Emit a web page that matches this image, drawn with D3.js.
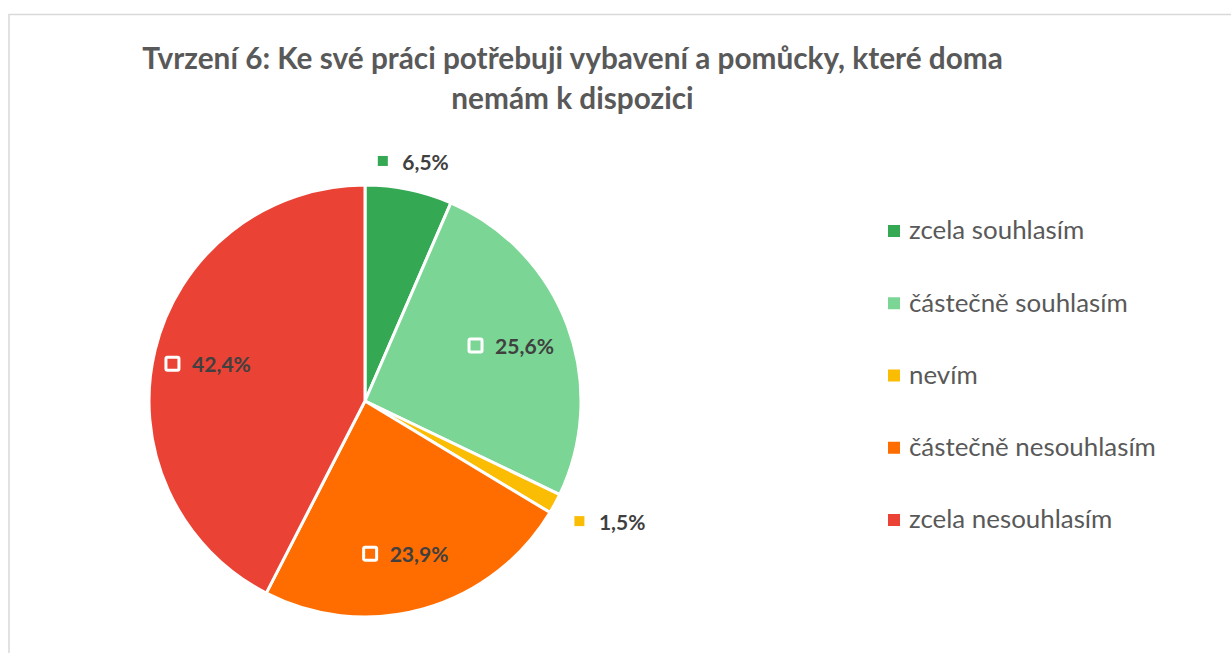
<!DOCTYPE html>
<html>
<head>
<meta charset="utf-8">
<script src="https://cdn.jsdelivr.net/npm/d3@7/dist/d3.min.js"></script>
<style>
  html, body { margin: 0; padding: 0; background: #fff; }
  svg { display: block; }
</style>
</head>
<body>
<svg id="chart" width="1231" height="653"></svg>
<script>
const titleLines = ["Tvrzení 6: Ke své práci potřebuji vybavení a pomůcky, které doma", "nemám k dispozici"];
const categories = ["zcela souhlasím", "částečně souhlasím", "nevím", "částečně nesouhlasím", "zcela nesouhlasím"];
const values = [6.5, 25.6, 1.5, 23.9, 42.4];
const labels = ["6,5%", "25,6%", "1,5%", "23,9%", "42,4%"];
const colors = ["#34A853", "#7BD695", "#FBBC04", "#FF6D01", "#EA4335"];

const FONT = "Lato, 'Open Sans', sans-serif";
const svg = d3.select("#chart");

// frame
svg.append("rect").attr("x", 9).attr("y", 14.5).attr("width", 1300).attr("height", 700)
  .attr("fill", "#fff").attr("stroke", "#d9d9d9").attr("stroke-width", 1.5);

function fit(sel, target) {
  const w = sel.node().getComputedTextLength();
  const fs = parseFloat(sel.attr("font-size"));
  sel.attr("font-size", fs * target / w);
}

// title
const t1 = svg.append("text").attr("x", 572.5).attr("y", 68.5).attr("text-anchor", "middle")
  .attr("font-family", FONT).attr("font-weight", "bold").attr("font-size", 30).attr("fill", "#595959")
  .text(titleLines[0]);
fit(t1, 861);
svg.append("text").attr("x", 572.5).attr("y", 108.5).attr("text-anchor", "middle")
  .attr("font-family", FONT).attr("font-weight", "bold").attr("font-size", t1.attr("font-size")).attr("fill", "#595959")
  .text(titleLines[1]);

// pie
const cx = 365, cy = 401, R = 216;
const pie = d3.pie().sort(null).value(d => d)(values);
const arc = d3.arc().innerRadius(0).outerRadius(R);
const g = svg.append("g").attr("transform", `translate(${cx},${cy})`);
g.selectAll("path").data(pie).join("path")
  .attr("d", arc).attr("fill", (d, i) => colors[i])
  .attr("stroke", "#fff").attr("stroke-width", 3).attr("stroke-linejoin", "round");

// data labels
const labelFs = 24;
pie.forEach((d, i) => {
  const a = (d.startAngle + d.endAngle) / 2;
  const outside = d.value < 10;
  const lg = g.append("g");
  const txt = lg.append("text").attr("font-family", FONT).attr("font-weight", "bold")
    .attr("font-size", labelFs).attr("fill", "#404040").text(labels[i]);
  fit(txt, (labels[i].length === 5 ? 59 : 46.5));
  const tw = txt.node().getComputedTextLength();
  let mx, my;
  if (outside) {
    const bw = 10 + 14.5 + tw, bh = 14;
    const rp = R + 22;
    const px = rp * Math.sin(a), py = -rp * Math.cos(a);
    const s = Math.sin(a), c = Math.cos(a);
    const ccx = Math.abs(s) < 0.5 ? px : (s > 0 ? px + bw / 2 : px - bw / 2);
    const ccy = Math.abs(c) < 0.3 ? py : (c > 0 ? py - bh / 2 : py + bh / 2);
    mx = ccx - bw / 2 + 5; my = ccy;
    lg.insert("rect", "text").attr("x", mx - 5).attr("y", my - 5).attr("width", 10).attr("height", 10)
      .attr("fill", colors[i]);
  } else {
    const gw = 8 + 19.5 + tw;
    const [px, py] = d3.arc().innerRadius(0).outerRadius(R * 0.735 * 2).centroid(d);
    mx = px - gw / 2 + 5; my = py;
    lg.insert("rect", "text").attr("x", mx - 6.5).attr("y", my - 6.5).attr("width", 13).attr("height", 13)
      .attr("rx", 1.5).attr("fill", colors[i]).attr("stroke", "#fff").attr("stroke-width", 3);
  }
  txt.attr("x", mx + 19.5).attr("y", my + 8.7);
});

// legend
const legendY = d3.scalePoint().domain(categories).range([231, 520]);
const lgd = svg.append("g");
categories.forEach((c, i) => {
  const y = legendY(c);
  lgd.append("rect").attr("x", 888).attr("y", y - 6).attr("width", 12).attr("height", 12).attr("fill", colors[i]);
  const tx = lgd.append("text").attr("x", 909).attr("y", y + 8.3).attr("font-family", FONT)
    .attr("font-size", 25).attr("fill", "#595959").text(c);
  if (i === 3) fit(tx, 247);
});
const lfs = lgd.selectAll("text").filter((d, i) => i === 3).attr("font-size");
lgd.selectAll("text").attr("font-size", lfs);
</script>
</body>
</html>
